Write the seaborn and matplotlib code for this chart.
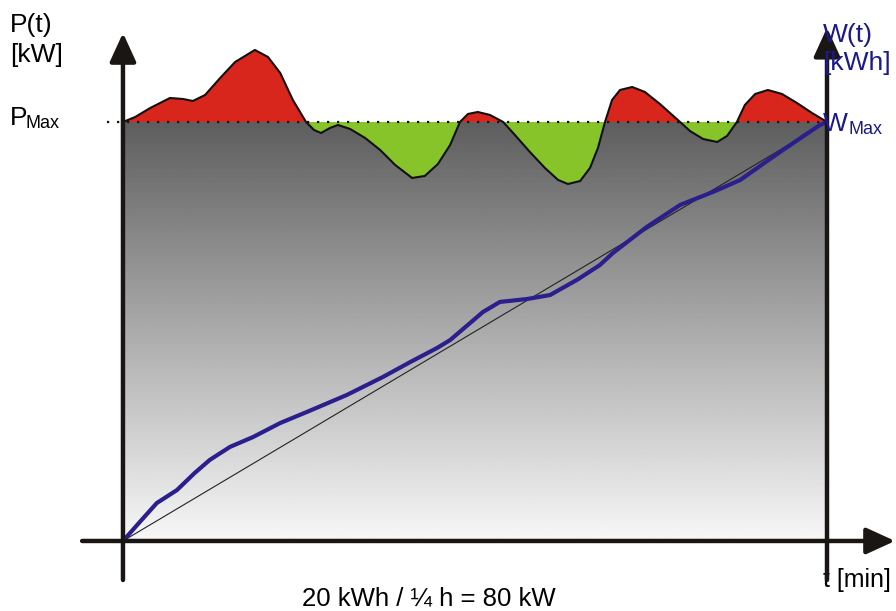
import numpy as np
import pandas as pd
import seaborn as sns
import matplotlib.pyplot as plt

sns.set_style("white")
plt.rcParams['font.family'] = ['Liberation Sans', 'DejaVu Sans']

# Zeit in Minuten (¼ h = 15 min), Leistung in kW, Arbeit in kWh
P_MAX = 80
W_MAX = 20
T_END = 15

t_power = [0.00, 0.26, 0.58, 1.00, 1.28, 1.49, 1.75, 2.07, 2.39, 2.81, 3.09, 3.35, 3.62, 3.90,
           4.07, 4.22, 4.41, 4.58, 4.84, 5.16, 5.48, 5.80, 6.16, 6.43, 6.71, 6.97, 7.18,
           7.35, 7.56, 7.82, 8.10, 8.35, 8.67, 8.99, 9.27, 9.48, 9.74, 9.95, 10.12, 10.27,
           10.42, 10.59, 10.85, 11.12, 11.44, 11.87, 12.08, 12.36, 12.66, 12.87, 13.08,
           13.25, 13.47, 13.74, 14.04, 14.36, 14.68, 15.00]
power = [80.0, 80.95, 82.67, 84.58, 84.39, 84.01, 85.16, 88.40, 91.46, 93.75, 92.41, 89.36, 84.20, 80.0,
         78.47, 77.90, 78.85, 79.43, 78.66, 76.94, 74.65, 71.79, 69.31, 69.69, 71.98, 75.61, 80.0,
         81.53, 81.91, 81.34, 80.0, 77.52, 74.27, 71.22, 68.93, 68.16, 68.73, 71.22, 75.04, 80.0,
         84.20, 86.11, 86.68, 85.73, 83.44, 80.0, 78.28, 76.75, 76.18, 77.33, 80.0,
         83.25, 85.35, 86.11, 85.35, 83.63, 81.72, 80.0]

t_work = [0.00, 0.36, 0.72, 1.15, 1.53, 1.85, 2.28, 2.77, 3.35, 3.92, 4.77, 5.54, 6.12, 6.69,
          6.97, 7.67, 8.03, 8.61, 9.10, 9.67, 10.16, 10.44, 11.16, 11.87, 12.57, 13.15,
          14.00, 14.85, 15.00]
work = [0.00, 0.91, 1.81, 2.43, 3.25, 3.87, 4.49, 4.96, 5.63, 6.16, 6.97, 7.83, 8.54, 9.21,
        9.59, 10.93, 11.41, 11.55, 11.74, 12.46, 13.17, 13.75, 14.99, 16.04, 16.66, 17.23,
        18.57, 19.86, 20.00]

df_p = pd.DataFrame({"t": t_power, "P": power})
df_w = pd.DataFrame({"t": t_work, "W": work})

AXIS = '#1a1614'
NAVY = '#1a1a8a'
RED = '#d9261c'
GREEN = '#86c42a'
BLUE_LINE = '#2a1f8c'

fig = plt.figure(figsize=(8.96, 6.11), dpi=100)
ax = fig.add_axes([0, 0, 1, 1])
ax.set_xlim(-2.62, 16.47)
ax.set_ylim(-13.37, 103.29)
ax.set_axis_off()

# Grauverlauf unter P_Max
grad = np.linspace(0.97, 0.37, 256).reshape(-1, 1)
ax.imshow(grad, cmap='gray', vmin=0, vmax=1, extent=[0, T_END, 0, P_MAX],
          aspect='auto', origin='lower', zorder=1)

# Über- und Unterschreitung
tp = np.array(t_power)
pp = np.array(power)
ax.fill_between(tp, P_MAX, pp, where=pp >= P_MAX, interpolate=True, color=RED, lw=0, zorder=2)
ax.fill_between(tp, P_MAX, pp, where=pp <= P_MAX, interpolate=True, color=GREEN, lw=0, zorder=2)
sns.lineplot(data=df_p, x="t", y="P", color='#111111', lw=1.5, ax=ax, zorder=4)

# P_Max gepunktet
ax.plot([-0.35, T_END], [P_MAX, P_MAX], color='#111111', lw=1.6,
        linestyle=(0, (1, 3.5)), zorder=3)

# Arbeit W(t) auf eigener Skala (W_MAX entspricht P_MAX)
scale = P_MAX / W_MAX
ax.plot([0, T_END], [0, W_MAX * scale], color='#222222', lw=0.8, zorder=3)
sns.lineplot(x=df_w["t"], y=df_w["W"] * scale, color=BLUE_LINE, lw=3, ax=ax, zorder=4)

# Achsen mit Pfeilen
def arrow(x0, y0, x1, y1):
    ax.annotate('', xy=(x1, y1), xytext=(x0, y0), annotation_clip=False,
                arrowprops=dict(arrowstyle='-|>,head_length=0.7,head_width=0.32',
                                lw=3.2, color=AXIS, shrinkA=0, shrinkB=0,
                                mutation_scale=25), zorder=5)

arrow(-0.87, 0, 16.45, 0)
arrow(0, -7.45, 0, 97.0)
arrow(T_END, -7.45, T_END, 98.0)

# Beschriftungen
ax.text(-2.41, 97.2, "P(t)", fontsize=19, color='black', va='baseline', ha='left')
ax.text(-2.41, 91.4, "[kW]", fontsize=19, color='black', va='baseline', ha='left')
ax.text(-2.41, 79.4, "P", fontsize=19, color='black', va='baseline', ha='left')
ax.text(-2.07, 78.8, "Max", fontsize=13, color='black', va='baseline', ha='left')

ax.text(14.92, 95.3, "W(t)", fontsize=19, color=NAVY, va='baseline', ha='left', zorder=6)
ax.text(14.92, 89.9, "[kWh]", fontsize=19, color=NAVY, va='baseline', ha='left', zorder=6)
ax.text(14.92, 78.3, "W", fontsize=19, color=NAVY, va='baseline', ha='left', zorder=6)
ax.text(15.45, 77.7, "Max", fontsize=13, color=NAVY, va='baseline', ha='left', zorder=6)

ax.text(14.92, -8.7, "t [min]", fontsize=18, color='black', va='baseline', ha='left')
ax.text(6.52, -12.3, "20 kWh / ¼ h = 80 kW", fontsize=18.5, color='black',
        va='baseline', ha='center')

fig.savefig("out.png", dpi=100)
